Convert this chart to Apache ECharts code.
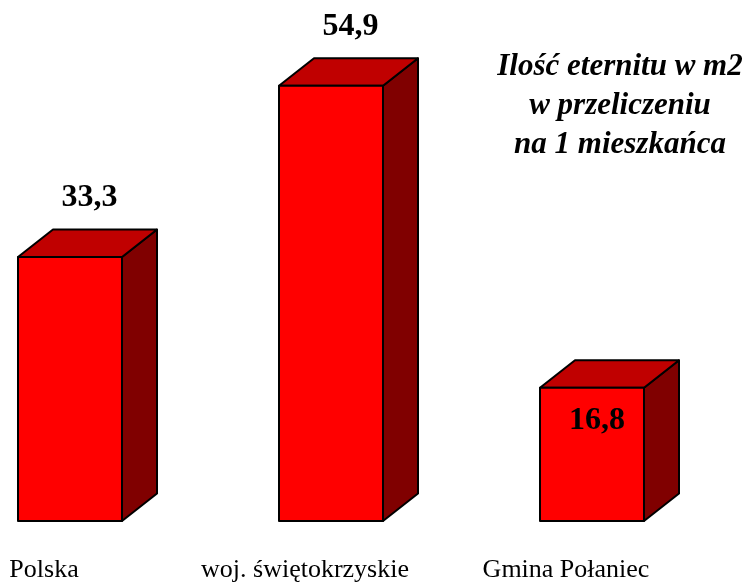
<!DOCTYPE html>
<html>
<head>
<meta charset="utf-8">
<script src="https://cdn.jsdelivr.net/npm/echarts@6/dist/echarts.min.js"></script>
<style>
  html, body { margin: 0; padding: 0; background: #fff; }
  #chart { width: 745px; height: 583px; }
</style>
</head>
<body>
<div id="chart"></div>
<script>
const categories = ['Polska', 'woj. świętokrzyskie', 'Gmina Połaniec'];
const values = [33.3, 54.9, 16.8];
// where the value label sits: above the box or inside its front face
const labelPlacement = ['top', 'top', 'inside'];

const chart = echarts.init(document.getElementById('chart'));

const halfW = 52;
const depthX = 35;
const depthY = 27.5;

function renderBox(params, api) {
  const idx = api.value(0);
  const top = api.coord([idx, api.value(1)]);
  const base = api.coord([idx, 0]);
  const x = top[0];
  const yt = top[1];
  const yb = base[1];
  const stroke = { stroke: '#000', lineWidth: 2, lineJoin: 'round' };
  const label = values[idx].toFixed(1).replace('.', ',');
  const inside = labelPlacement[idx] === 'inside';
  return {
    type: 'group',
    children: [
      {
        type: 'polygon',
        shape: { points: [[x + halfW, yb], [x + halfW, yt], [x + halfW + depthX, yt - depthY], [x + halfW + depthX, yb - depthY]] },
        style: Object.assign({ fill: '#800000' }, stroke)
      },
      {
        type: 'polygon',
        shape: { points: [[x - halfW, yt], [x + halfW, yt], [x + halfW + depthX, yt - depthY], [x - halfW + depthX, yt - depthY]] },
        style: Object.assign({ fill: '#C00000' }, stroke)
      },
      {
        type: 'rect',
        shape: { x: x - halfW, y: yt, width: halfW * 2, height: yb - yt },
        style: Object.assign({ fill: '#FF0000' }, stroke)
      },
      {
        type: 'text',
        x: inside ? x + 5 : x + depthX / 2 + 2,
        y: inside ? yt + 33 : yt - depthY - 32,
        style: {
          text: label,
          fill: '#000',
          font: 'bold 32px "Liberation Serif", serif',
          align: 'center',
          verticalAlign: 'middle'
        }
      }
    ]
  };
}

const option = {
  animation: false,
  title: {
    text: 'Ilość eternitu w m2\nw przeliczeniu\nna 1 mieszkańca',
    left: 615,
    top: 42,
    textAlign: 'center',
    textStyle: {
      fontFamily: '"Liberation Serif", serif',
      fontStyle: 'italic',
      fontWeight: 'bold',
      fontSize: 31,
      lineHeight: 39,
      color: '#000'
    }
  },
  grid: {
    left: 70,
    right: 153,
    top: 45.4,
    bottom: 60
  },
  xAxis: {
    type: 'category',
    data: categories,
    boundaryGap: false,
    axisLine: { show: false },
    axisTick: { show: false },
    splitLine: { show: false },
    axisLabel: {
      margin: 36,
      interval: 0,
      color: '#000',
      fontFamily: '"Liberation Serif", serif',
      fontSize: 26,
      padding: [0, 52, 0, 0]
    }
  },
  yAxis: {
    type: 'value',
    min: 0,
    max: 60,
    show: false
  },
  series: [{
    type: 'custom',
    renderItem: renderBox,
    clip: false,
    data: values.map((v, i) => [i, v])
  }]
};

chart.setOption(option);
</script>
</body>
</html>
